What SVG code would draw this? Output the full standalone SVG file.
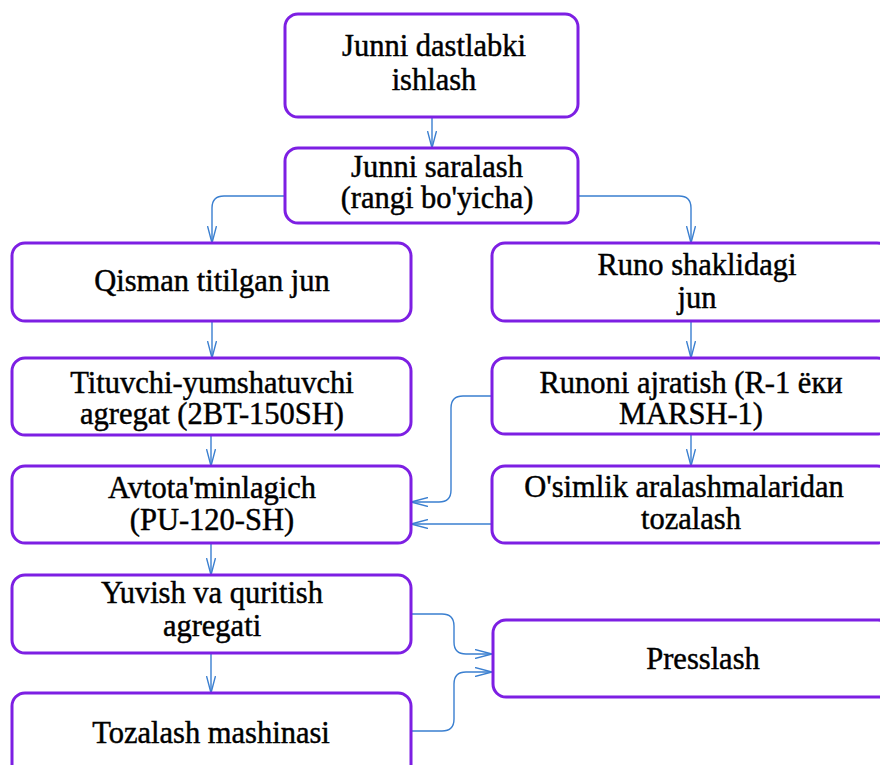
<svg xmlns="http://www.w3.org/2000/svg" width="880" height="765" viewBox="0 0 880 765">
<style>
.box{fill:#fff;stroke:#7d1fe3;stroke-width:3}
.t{font-family:"Liberation Serif","Times New Roman",serif;font-size:30.5px;fill:#000;stroke:#000;stroke-width:0.45;text-anchor:middle}
.c{fill:none;stroke:#3a7fd0;stroke-width:1.4}
</style>
<defs>
<marker id="ah" markerUnits="userSpaceOnUse" viewBox="0 0 17 10" refX="17" refY="5" markerWidth="17" markerHeight="10" orient="auto">
<path d="M0,0.5 L17,5 L0,9.5" fill="none" stroke="#3a7fd0" stroke-width="1.4"/>
</marker>
</defs>
<rect width="880" height="765" fill="#fff"/>
<g id="connectors">
<path class="c" marker-end="url(#ah)" d="M432,117 V148"/>
<path class="c" marker-end="url(#ah)" d="M285,196 H224 Q212,196 212,208 V243"/>
<path class="c" marker-end="url(#ah)" d="M578,196 H679 Q691,196 691,208 V243"/>
<path class="c" marker-end="url(#ah)" d="M212,321 V358"/>
<path class="c" marker-end="url(#ah)" d="M691,321 V358"/>
<path class="c" marker-end="url(#ah)" d="M211,435 V466"/>
<path class="c" marker-end="url(#ah)" d="M691,434 V466"/>
<path class="c" marker-end="url(#ah)" d="M492,396 H463 Q451,396 451,408 V490 Q451,502 439,502 H411"/>
<path class="c" marker-end="url(#ah)" d="M492,524 H411"/>
<path class="c" marker-end="url(#ah)" d="M211,543 V575"/>
<path class="c" marker-end="url(#ah)" d="M211,653 V693"/>
<path class="c" marker-end="url(#ah)" d="M411,614 H442 Q454,614 454,626 V642 Q454,654 466,654 H492"/>
<path class="c" marker-end="url(#ah)" d="M411,731 H442 Q454,731 454,719 V684 Q454,672 466,672 H492"/>
</g>
<g id="n1"><rect class="box" x="285" y="14" width="293" height="103" rx="13"/>
<text class="t" x="434" y="56">Junni dastlabki</text><text class="t" x="434" y="90">ishlash</text></g>
<g id="n2"><rect class="box" x="285" y="148" width="293" height="75" rx="13"/>
<text class="t" x="437" y="177">Junni saralash</text><text class="t" x="437" y="208">(rangi bo'yicha)</text></g>
<g id="n3"><rect class="box" x="12" y="243" width="399" height="78" rx="13"/>
<text class="t" x="212" y="291">Qisman titilgan jun</text></g>
<g id="n4"><rect class="box" x="492" y="243" width="398" height="78" rx="13"/>
<text class="t" x="697" y="275">Runo shaklidagi</text><text class="t" x="697" y="308">jun</text></g>
<g id="n5"><rect class="box" x="12" y="358" width="399" height="77" rx="13"/>
<text class="t" x="212" y="393">Tituvchi-yumshatuvchi</text><text class="t" x="212" y="424">agregat (2BT-150SH)</text></g>
<g id="n6"><rect class="box" x="492" y="358" width="398" height="76" rx="13"/>
<text class="t" x="691" y="393">Runoni ajratish (R-1 ёки</text><text class="t" x="691" y="424">MARSH-1)</text></g>
<g id="n7"><rect class="box" x="12" y="466" width="399" height="77" rx="13"/>
<text class="t" x="212" y="498">Avtota'minlagich</text><text class="t" x="212" y="530">(PU-120-SH)</text></g>
<g id="n8"><rect class="box" x="492" y="466" width="398" height="77" rx="13"/>
<text class="t" x="684" y="497">O'simlik aralashmalaridan</text><text class="t" x="691" y="529">tozalash</text></g>
<g id="n9"><rect class="box" x="12" y="575" width="399" height="78" rx="13"/>
<text class="t" x="212" y="603">Yuvish va quritish</text><text class="t" x="212" y="636">agregati</text></g>
<g id="n10"><rect class="box" x="12" y="693" width="399" height="85" rx="13"/>
<text class="t" x="211" y="743">Tozalash mashinasi</text></g>
<g id="n11"><rect class="box" x="493" y="620" width="398" height="77" rx="13"/>
<text class="t" x="703" y="669">Presslash</text></g>
</svg>
